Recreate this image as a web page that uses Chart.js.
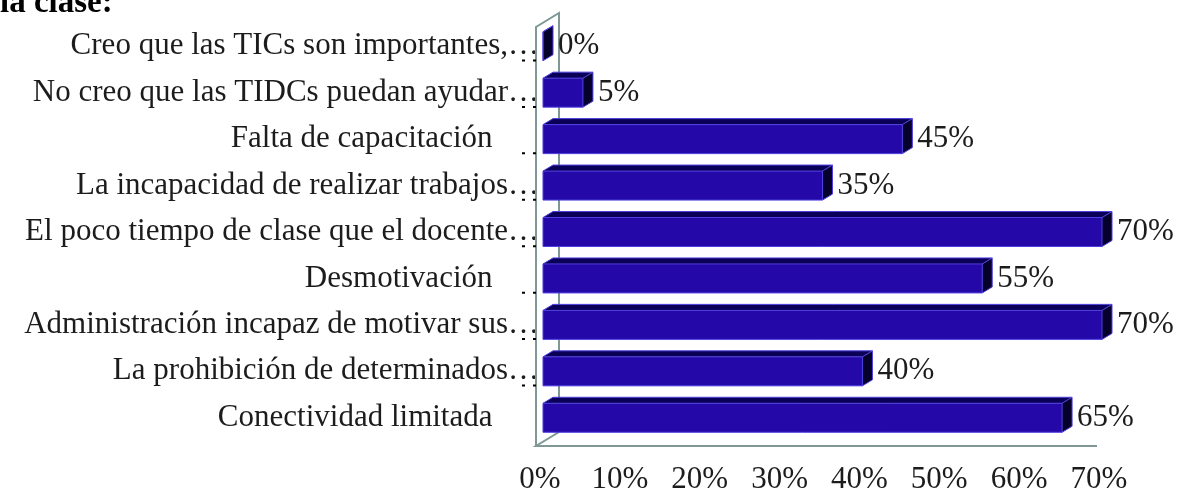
<!DOCTYPE html>
<html>
<head>
<meta charset="utf-8">
<script src="https://cdn.jsdelivr.net/npm/chart.js@4/dist/chart.umd.min.js"></script>
<style>
  html, body { margin: 0; padding: 0; background: #fff; }
  #caja { position: relative; width: 1188px; height: 496px; }
</style>
</head>
<body>
<div id="caja"><canvas id="grafico"></canvas></div>
<script>
const titulo = 'la clase:'
const categorias = [
  'Creo que las TICs son importantes,…',
  'No creo que las TIDCs puedan ayudar…',
  'Falta de capacitación',
  'La incapacidad de realizar trabajos…',
  'El poco tiempo de clase que el docente…',
  'Desmotivación',
  'Administración incapaz de motivar sus…',
  'La prohibición de determinados…',
  'Conectividad limitada'
]
const porcentajes = [0, 5, 45, 35, 70, 55, 70, 40, 65]
const ticksX = [0, 10, 20, 30, 40, 50, 60, 70]

const fuente = { family: "'Liberation Serif', 'Times New Roman', serif", size: 31 }
const colorTexto = '#1c1c1c'

// caras del efecto 3D, pared y etiquetas de valor
const tresD = {
  id: 'tresD',
  beforeDatasetsDraw (chart) {
    const { ctx, chartArea: a } = chart
    const y = chart.scales.y
    ctx.save()
    // pared izquierda
    ctx.strokeStyle = '#7f9795'
    ctx.lineWidth = 2
    const fx = a.left - 4, ftop = a.top + 4, fbot = a.bottom + 5
    ctx.beginPath()
    ctx.moveTo(fx, fbot)
    ctx.lineTo(fx, ftop)
    ctx.lineTo(fx + 23, ftop - 14)
    ctx.lineTo(fx + 23, fbot - 14)
    ctx.lineTo(fx, fbot)
    ctx.lineTo(a.right - 2, fbot)
    ctx.stroke()
    // marcas punteadas entre categorias
    ctx.strokeStyle = '#000'
    ctx.lineWidth = 2
    ctx.setLineDash([3, 8])
    for (let i = 1; i < categorias.length; i++) {
      const yy = (y.getPixelForTick(i - 1) + y.getPixelForTick(i)) / 2 - 9
      ctx.beginPath()
      ctx.moveTo(a.left - 18, yy)
      ctx.lineTo(a.left - 4, yy)
      ctx.stroke()
    }
    ctx.restore()
  },
  afterDatasetsDraw (chart) {
    const { ctx } = chart
    const meta = chart.getDatasetMeta(0)
    const dx = 10, dy = -6
    ctx.save()
    meta.data.forEach((bar, i) => {
      const p = bar.getProps(['x', 'y', 'base', 'height'], true)
      const x0 = p.base + 3, x1 = p.x + 3
      const t = p.y - p.height / 2, b = p.y + p.height / 2
      // frente
      ctx.fillStyle = '#2408a8'
      ctx.fillRect(x0, t, x1 - x0, b - t)
      // techo
      ctx.fillStyle = '#0b0058'
      ctx.beginPath()
      ctx.moveTo(x0, t); ctx.lineTo(x0 + dx, t + dy); ctx.lineTo(x1 + dx, t + dy); ctx.lineTo(x1, t)
      ctx.closePath(); ctx.fill()
      // lado
      ctx.fillStyle = '#06002c'
      ctx.beginPath()
      ctx.moveTo(x1, t); ctx.lineTo(x1 + dx, t + dy); ctx.lineTo(x1 + dx, b + dy); ctx.lineTo(x1, b)
      ctx.closePath(); ctx.fill()
      // bordes
      ctx.strokeStyle = '#4d3fe0'
      ctx.lineWidth = 1
      ctx.beginPath()
      ctx.moveTo(x0, b); ctx.lineTo(x0, t); ctx.lineTo(x0 + dx, t + dy); ctx.lineTo(x1 + dx, t + dy)
      ctx.lineTo(x1 + dx, b + dy); ctx.lineTo(x1, b); ctx.lineTo(x0, b)
      ctx.moveTo(x1, t); ctx.lineTo(x1 + dx, t + dy)
      ctx.moveTo(x1, t); ctx.lineTo(x1, b)
      ctx.moveTo(x0, t); ctx.lineTo(x1, t)
      ctx.stroke()
      // etiqueta
      ctx.fillStyle = colorTexto
      ctx.font = fuente.size + 'px ' + fuente.family
      ctx.textAlign = 'left'
      ctx.textBaseline = 'middle'
      ctx.fillText(porcentajes[i] + '%', x1 + dx + 5, p.y)
    })
    ctx.restore()
  },
  afterDraw (chart) {
    const { ctx } = chart
    ctx.save()
    ctx.fillStyle = '#000'
    ctx.font = 'bold 33px ' + fuente.family
    ctx.textAlign = 'left'
    ctx.textBaseline = 'alphabetic'
    ctx.fillText(titulo, 0, 12)
    ctx.restore()
  }
}

new Chart(document.getElementById('grafico'), {
  type: 'bar',
  data: {
    labels: categorias,
    datasets: [{
      data: porcentajes,
      backgroundColor: 'rgba(0,0,0,0)',
      borderWidth: 0,
      barThickness: 29
    }]
  },
  options: {
    indexAxis: 'y',
    responsive: true,
    maintainAspectRatio: false,
    animation: false,
    layout: { padding: { top: 23, right: 89, bottom: 0, left: 0 } },
    plugins: {
      legend: { display: false },
      tooltip: { enabled: false }
    },
    scales: {
      x: {
        min: 0,
        max: 70,
        afterFit: s => { s.height = 55 },
        afterBuildTicks: s => { s.ticks = ticksX.map(v => ({ value: v })) },
        grid: { display: false },
        border: { display: false },
        ticks: {
          padding: 12,
          maxRotation: 0,
          autoSkip: false,
          color: colorTexto,
          font: fuente,
          callback: v => v + '%'
        }
      },
      y: {
        afterFit: s => { s.width = 540 },
        grid: { display: false },
        border: { display: false },
        ticks: {
          padding: -7,
          autoSkip: false,
          color: colorTexto,
          font: fuente,
          callback: (v, i) => {
            const t = categorias[i]
            return t.endsWith('…') ? t : t + '\u00a0'.repeat(6)
          }
        }
      }
    }
  },
  plugins: [tresD]
})
</script>
</body>
</html>
